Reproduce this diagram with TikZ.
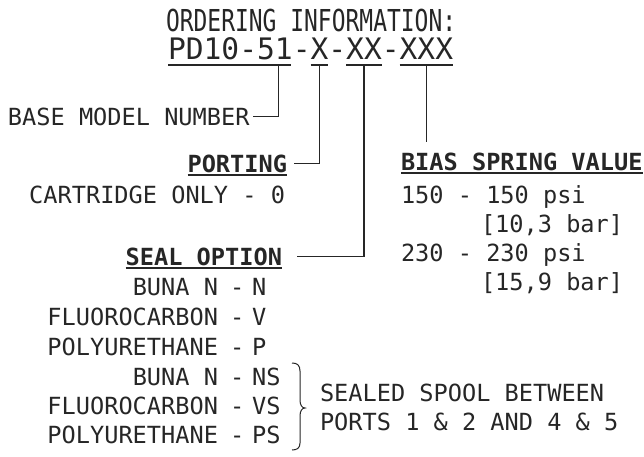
\documentclass[tikz,border=0pt]{standalone}
\usepackage{fontspec}
\newfontfamily\cadfont{DejaVu Sans Mono}
\newfontfamily\cadtitle[FakeStretch=0.76]{DejaVu Sans Mono}
\begin{document}
\begin{tikzpicture}[x=1pt,y=-1pt,
  txt/.style={inner sep=0pt, outer sep=0pt, text=black!85, font=\cadfont\fontsize{23.6}{28}\selectfont},
  hdr/.style={txt, font=\cadfont\bfseries\fontsize{23.6}{28}\selectfont},
  ttl/.style={inner sep=0pt, outer sep=0pt, text=black!85, font=\cadtitle\fontsize{30.2}{34}\selectfont},
  pdn/.style={inner sep=0pt, outer sep=0pt, text=black!85, anchor=base west, font=\cadfont\fontsize{29.6}{34}\selectfont},
  lead/.style={line width=1.3pt, black!85},
  ul/.style={line width=1.3pt, black!85},
  hul/.style={line width=2pt, black!85}]
\useasboundingbox (0,0) rectangle (644,456);

% title
\node[ttl, anchor=base west] (title) at (166,31) {ORDERING INFORMATION:};

% part number
\node[pdn] (pd) at (168,59) {PD10-51};
\node[pdn] (d1) at (pd.base east) {-};
\node[pdn] (px) at (d1.base east) {X};
\node[pdn] (d2) at (px.base east) {-};
\node[pdn] (pxx) at (d2.base east) {XX};
\node[pdn] (d3) at (pxx.base east) {-};
\node[pdn] (pxxx) at (d3.base east) {XXX};

\draw[ul] ([yshift=-6pt]pd.base west) -- ([yshift=-6pt,xshift=-2pt]pd.base east);
\draw[ul] ([yshift=-6pt]px.base west) -- ([yshift=-6pt]px.base east);
\draw[ul] ([yshift=-6pt]pxx.base west) -- ([yshift=-6pt]pxx.base east);
\draw[ul] ([yshift=-6pt]pxxx.base west) -- ([yshift=-6pt]pxxx.base east);

\coordinate (cb) at ([xshift=-14pt,yshift=-6pt]pd.base east);
\coordinate (cx) at ([yshift=-6pt]px.base);
\coordinate (cxx) at ([yshift=-6pt]pxx.base);
\coordinate (cxxx) at ([yshift=-6pt]pxxx.base);

% left column
\node[txt, anchor=base west] (bmn) at (8,125) {BASE MODEL NUMBER};
\node[hdr, anchor=base east] (port) at (287,172) {PORTING};
\node[txt, anchor=base east] (cart) at (285,203) {CARTRIDGE ONLY - 0};
\node[hdr, anchor=base east] (seal) at (282,265) {SEAL OPTION};

\node[txt, anchor=base east] (n1) at (218,295) {BUNA N};
\node[txt, anchor=base west] (c1) at (230,295) {-\hspace{8pt}N};
\node[txt, anchor=base east] (n2) at (218,325) {FLUOROCARBON};
\node[txt, anchor=base west] (c2) at (230,325) {-\hspace{8pt}V};
\node[txt, anchor=base east] (n3) at (218,355) {POLYURETHANE};
\node[txt, anchor=base west] (c3) at (230,355) {-\hspace{8pt}P};
\node[txt, anchor=base east] (n4) at (218,385) {BUNA N};
\node[txt, anchor=base west] (c4) at (230,385) {-\hspace{8pt}NS};
\node[txt, anchor=base east] (n5) at (218,414) {FLUOROCARBON};
\node[txt, anchor=base west] (c5) at (230,414) {-\hspace{8pt}VS};
\node[txt, anchor=base east] (n6) at (218,443) {POLYURETHANE};
\node[txt, anchor=base west] (c6) at (230,443) {-\hspace{8pt}PS};

% brace and note
\draw[lead, line width=1pt] (292,363) .. controls (297,363) and (300,365) .. (300,371)
  -- (300,400) .. controls (300,405) and (302,408) .. (305,408)
  .. controls (302,408) and (300,411) .. (300,416)
  -- (300,443) .. controls (300,448) and (297,450) .. (292,450);
\node[txt, anchor=base west] (sp1) at (320,401) {SEALED SPOOL BETWEEN};
\node[txt, anchor=base west] (sp2) at (320,430) {PORTS 1 \& 2 AND 4 \& 5};

% right column
\node[hdr, anchor=base west] (bias) at (401,170) {BIAS SPRING VALUE};
\node[txt, anchor=base west] (b1) at (401,203) {150 - 150 psi};
\node[txt, anchor=base west] (b1b) at (481,232) {[10,3 bar]};
\node[txt, anchor=base west] (b2) at (401,261) {230 - 230 psi};
\node[txt, anchor=base west] (b2b) at (481,290) {[15,9 bar]};

% header underlines
\draw[hul] ([yshift=-3pt]port.base west) -- ([yshift=-3pt]port.base east);
\draw[hul] ([yshift=-3pt]seal.base west) -- ([yshift=-3pt]seal.base east);
\draw[hul] ([yshift=-3pt]bias.base west) -- ([yshift=-3pt]bias.base east);

% leaders
\draw[lead] (cb) |- ([xshift=3pt]bmn.east);
\draw[lead] (cx) |- ([xshift=7pt]port.east);
\draw[lead] (cxx) |- ([xshift=15pt]seal.east);
\draw[lead] (cxxx) -- ([yshift=10pt]cxxx |- bias.north);
\end{tikzpicture}
\end{document}
